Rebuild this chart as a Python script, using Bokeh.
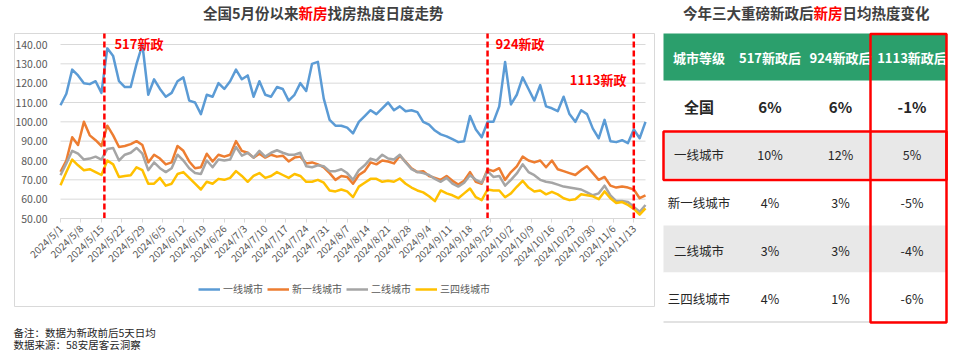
import numpy as np
import pandas as pd
from bokeh.plotting import figure
from bokeh.models import (Range1d, FixedTicker, Legend, LegendItem, ColumnDataSource)
from bokeh.embed import file_html
from bokeh.resources import INLINE
from bokeh.core.properties import value

FONT = "Noto Sans CJK SC"

# ---------------- data ----------------
start_date = "2024-05-01"
end_date = "2024-11-17"
sample_dates = pd.date_range(start_date, end_date, freq="2D")

tier1 = [108.6, 114.5, 127, 124, 120, 119.5, 121, 115, 138, 134,
         121, 118, 118, 130, 140, 114, 122, 117, 113, 115,
         121, 123, 111, 110, 104, 114, 113, 120, 117, 121,
         127, 122, 124, 113, 121, 114, 113, 118, 117, 111,
         114, 120, 116, 130, 131, 112, 101, 98, 98, 97,
         94, 100, 103, 106, 104, 107, 110, 106, 108, 105.5,
         106, 105, 100, 98.5, 95.5, 93.5, 92.5, 91, 89.5, 90,
         103, 96, 92, 100, 100, 108, 131, 109, 114, 123,
         117, 111, 119, 108, 107, 105.5, 113, 104, 100, 106,
         104, 96.5, 91.5, 101, 90, 89.5, 90.5, 89, 96, 91.5,
         100]
new_tier1 = [74.2, 80, 92, 88, 100, 93, 90.5, 87.5, 98, 93,
             87, 87.5, 88.5, 90, 88, 79, 83, 81, 78, 79,
             87.5, 85, 79.5, 76, 76.5, 83.5, 79.5, 83, 82, 83,
             90, 85, 84, 81.5, 83.5, 81.5, 83, 82, 82.5, 79.5,
             81.5, 82, 78.5, 79, 78, 76.5, 73.5, 70, 72, 71.5,
             68, 72.5, 74.5, 79, 78, 80, 79.5, 78.5, 82.5, 79.3,
             76, 74, 74.5, 72, 71, 70, 72, 69.5, 67.5, 69.5,
             74, 69, 68, 75.5, 74.5, 76, 70, 74, 77, 82,
             80, 79, 80, 76.5, 80, 75.5, 74.5, 73.5, 72.5, 75,
             77, 73.5, 70, 71.5, 67, 66, 66.5, 66, 65, 60.5,
             62]
tier2 = [72.4, 78.5, 85, 83.5, 80.5, 81, 82, 80.5, 86, 86.5,
         80, 83, 84, 86.5, 83.5, 75, 79, 76, 74, 76,
         83, 80, 76, 73.5, 73, 80, 76.5, 80.5, 80, 80.5,
         87, 82.5, 84, 81.5, 85, 82, 84, 85.3, 84, 83,
         83, 84, 77, 76.5, 77.5, 77, 74.5, 74.5, 75.5, 73.5,
         70, 75, 77.5, 81, 80, 83, 81, 80.5, 83, 79,
         75.5, 74, 73.5, 72.5, 70.5, 69, 71, 68, 66.5, 68.5,
         72.4, 70, 68.5, 74.5, 71.5, 72, 67, 70, 73.3, 78,
         74, 72.4, 70, 69, 68.5, 67.5, 66.5, 66, 65.5, 65,
         63.5, 62, 63, 67, 62, 59, 59, 58.5, 56, 53.5,
         57]
tier34 = [67.2, 74, 80.5, 77.5, 75, 75.5, 74, 72.5, 80, 78,
          71.5, 72, 72.4, 76.5, 75, 68, 68, 71, 67, 68,
          73, 74, 71, 68, 65, 69, 68, 70.5, 70, 71,
          74.5, 72, 69, 72, 73.5, 71, 72, 74, 72.5, 71,
          73, 72, 69, 69, 70, 68.5, 64.5, 64, 65, 64,
          61, 66.5, 68.5, 70.5, 70.5, 69, 69.5, 69, 70.7, 68,
          66, 64.5, 63.5, 61.5, 59, 64.5, 63, 62, 60.5, 63,
          65.5, 61, 59.5, 65, 64.5, 64.5, 61, 63, 66.4, 69.5,
          66, 64, 64.5, 62.5, 63.8, 62.5, 60.5, 59.5, 60, 62.5,
          62, 61.5, 60, 64, 60.5, 58, 58.5, 57, 55, 52,
          55.2]
series_names = ["一线城市", "新一线城市", "二线城市", "三四线城市"]
series_colors = ["#5B9BD5", "#ED7D31", "#A5A5A5", "#FFC000"]

x_tick_labels = ["2024/5/1", "2024/5/8", "2024/5/15", "2024/5/22", "2024/5/29",
                 "2024/6/5", "2024/6/12", "2024/6/19", "2024/6/26", "2024/7/3",
                 "2024/7/10", "2024/7/17", "2024/7/24", "2024/7/31", "2024/8/7",
                 "2024/8/14", "2024/8/21", "2024/8/28", "2024/9/4", "2024/9/11",
                 "2024/9/18", "2024/9/25", "2024/10/2", "2024/10/9", "2024/10/16",
                 "2024/10/23", "2024/10/30", "2024/11/6", "2024/11/13"]
y_ticks = [50, 60, 70, 80, 90, 100, 110, 120, 130, 140]

policy_dates = ["2024-05-16", "2024-09-24", "2024-11-13"]
policy_labels = ["517新政", "924新政", "1113新政"]

chart_title = ["全国5月份以来", "新房", "找房热度日度走势"]
notes = ["备注：数据为新政前后5天日均", "数据来源：58安居客云洞察"]

table_title = ["今年三大重磅新政后", "新房", "日均热度变化"]
table_header = ["城市等级", "517新政后", "924新政后", "1113新政后"]
table_rows = ["全国", "一线城市", "新一线城市", "二线城市", "三四线城市"]
after_517 = [6, 10, 4, 3, 4]
after_924 = [6, 12, 3, 3, 1]
after_1113 = [-1, 5, -5, -4, -6]

# ---------------- geometry ----------------
W, H = 960, 353
t0 = pd.Timestamp(start_date)
xs = [(d - t0).days for d in sample_dates]
tick_days = [(pd.Timestamp(s.replace("/", "-")) - t0).days for s in x_tick_labels]
policy_days = [(pd.Timestamp(s) - t0).days for s in policy_dates]
n_days = (pd.Timestamp(end_date) - t0).days

PX_L, PX_R = 60, 645          # canvas px of first / last day
PY_TOP_TICK, PY_BOT_TICK = 44, 218   # canvas px of 140 / 50
x_per_px = n_days / (PX_R - PX_L)
y_per_px = (y_ticks[-1] - y_ticks[0]) / (PY_BOT_TICK - PY_TOP_TICK)
x_lo = -PX_L * x_per_px
x_hi = (W - PX_L) * x_per_px
y_hi = y_ticks[-1] + PY_TOP_TICK * y_per_px
y_lo = y_ticks[0] - (H - PY_BOT_TICK) * y_per_px
y_dash_top = y_ticks[-1] + (PY_TOP_TICK - 33) * y_per_px

p = figure(width=W, height=H, x_range=Range1d(x_lo, x_hi), y_range=Range1d(y_lo, y_hi),
           output_backend="svg", toolbar_location=None, min_border=0,
           min_border_left=0, min_border_right=0, min_border_top=0, min_border_bottom=0)
p.extra_x_ranges = {"px": Range1d(0, W)}
p.extra_y_ranges = {"py": Range1d(H, 0)}
p.outline_line_color = None
p.background_fill_color = "white"
p.border_fill_color = "white"
p.grid.visible = False

# chart border box (pixel layout)
p.quad(left=[14], right=[654], top=[33], bottom=[306], fill_color=None,
       line_color="#d9d9d9", line_width=1, x_range_name="px", y_range_name="py")

# horizontal gridlines across the data span
p.segment(x0=[0] * len(y_ticks), x1=[n_days] * len(y_ticks), y0=y_ticks, y1=y_ticks,
          line_color="#d9d9d9", line_width=1)

# axes pinned inside the frame
p.yaxis.fixed_location = 0
p.yaxis.bounds = (y_ticks[0], y_ticks[-1])
p.yaxis.ticker = FixedTicker(ticks=y_ticks)
p.yaxis.major_label_overrides = {v: f"{v:.2f}" for v in y_ticks}
p.yaxis.axis_line_color = None
p.yaxis.major_tick_line_color = None
p.yaxis.minor_tick_line_color = None
p.yaxis.major_label_text_font = FONT
p.yaxis.major_label_text_font_size = "10.5px"
p.yaxis.major_label_text_color = "#595959"
p.yaxis.major_label_standoff = 7

p.xaxis.fixed_location = y_ticks[0]
p.xaxis.bounds = (0, n_days)
p.xaxis.ticker = FixedTicker(ticks=tick_days)
p.xaxis.major_label_overrides = {d: s for d, s in zip(tick_days, x_tick_labels)}
p.xaxis.major_label_orientation = np.pi / 4
p.xaxis.axis_line_color = "#d9d9d9"
p.xaxis.major_tick_line_color = "#d9d9d9"
p.xaxis.major_tick_in = 0
p.xaxis.major_tick_out = 4
p.xaxis.minor_tick_line_color = None
p.xaxis.major_label_text_font = FONT
p.xaxis.major_label_text_font_size = "10px"
p.xaxis.major_label_text_color = "#595959"
p.xaxis.major_label_standoff = 4

renderers = []
for name, vals, col in zip(series_names, [tier1, new_tier1, tier2, tier34], series_colors):
    r = p.line(xs, vals, line_color=col, line_width=2.5, line_join="round")
    renderers.append((name, r))

# policy dashed lines and labels
p.segment(x0=policy_days, x1=policy_days, y0=[y_ticks[0]] * 3, y1=[y_dash_top] * 3,
          line_color="#FF0000", line_width=2.5, line_dash="6 3")
lab_src = ColumnDataSource(dict(x=policy_days, y=[43, 43, 79], text=policy_labels,
                                dx=[10, 8, -64]))
p.text(x="x", y="y", text="text", x_offset="dx", source=lab_src, y_range_name="py",
       text_font=value(FONT), text_font_size="13px", text_font_style="bold",
       text_color="#FF0000", text_baseline="middle", text_align="left")

legend = Legend(items=[LegendItem(label=n, renderers=[r]) for n, r in renderers],
                location=(198, H - 290 - 6), orientation="horizontal",
                padding=0, margin=0, spacing=4, glyph_width=22, glyph_height=12,
                label_height=12, label_standoff=3, label_text_font=FONT,
                label_text_font_size="10px", label_text_color="#595959",
                border_line_color=None, background_fill_alpha=0)
p.add_layout(legend)

def ptext(x, y, text, align, color="#404040", size="14.5px", style="bold"):
    p.text(x=[x], y=[y], text=[text], x_range_name="px", y_range_name="py",
           text_font=value(FONT), text_font_size=size, text_font_style=style,
           text_color=color, text_align=align, text_baseline="middle")

# chart title (three parts, middle in red)
ptext(298, 12, chart_title[0], "right")
ptext(298, 12, chart_title[1], "left", color="#FF0000")
ptext(327, 12, chart_title[2], "left")

for txt, py in zip(notes, [332, 344]):
    ptext(13, py, txt, "left", color="#262626", size="10.5px", style="normal")

# ---------------- table ----------------
TL, TR = 663, 946
col_x = [698.5, 769.5, 840, 911.5]
row_top = [80, 130, 178, 225, 272]
row_bot = [130, 178, 225, 272, 321]
row_cy = [106, 153.5, 201.5, 249.5, 297.5]
row_fill = ["white", "#e8e8e8", "white", "#e8e8e8", "white"]
kw = dict(x_range_name="px", y_range_name="py")

p.quad(left=[TL] * 5, right=[TR] * 5, top=row_top, bottom=row_bot,
       fill_color=row_fill, line_color=None, **kw)
p.quad(left=[TL], right=[TR], top=[33], bottom=[80], fill_color="#2b9f6c",
       line_color=None, **kw)
p.segment(x0=[TL], x1=[TR], y0=[321.5], y1=[321.5], line_color="#d9d9d9",
          line_width=1.5, **kw)

p.text(x=col_x, y=[56.5] * 4, text=table_header, text_font=value(FONT),
       text_font_size="13px", text_font_style="bold", text_color="white",
       text_align="center", text_baseline="middle", **kw)

cells = dict(x=[], y=[], text=[], size=[], style=[])
for i, name in enumerate(table_rows):
    vals = [name] + [f"{v}%" for v in (after_517[i], after_924[i], after_1113[i])]
    for j, t in enumerate(vals):
        cells["x"].append(col_x[j])
        cells["y"].append(row_cy[i])
        cells["text"].append(t)
        cells["size"].append("15px" if i == 0 else "12.5px")
        cells["style"].append("bold" if i == 0 else "normal")
p.text(x="x", y="y", text="text", source=ColumnDataSource(cells), text_font=value(FONT),
       text_font_size="size", text_font_style="style", text_color="#262626",
       text_align="center", text_baseline="middle", **kw)

# red highlight boxes
p.quad(left=[870, TL], right=[TR, TR], top=[33.5, 131], bottom=[322, 179.5],
       fill_color=None, line_color="#FF0000", line_width=2.5, **kw)

# table title
red_start = 813
ptext(red_start, 12, table_title[0], "right")
ptext(red_start, 12, table_title[1], "left", color="#FF0000")
ptext(red_start + 29, 12, table_title[2], "left")

open("out.html", "w").write(file_html(p, INLINE))
